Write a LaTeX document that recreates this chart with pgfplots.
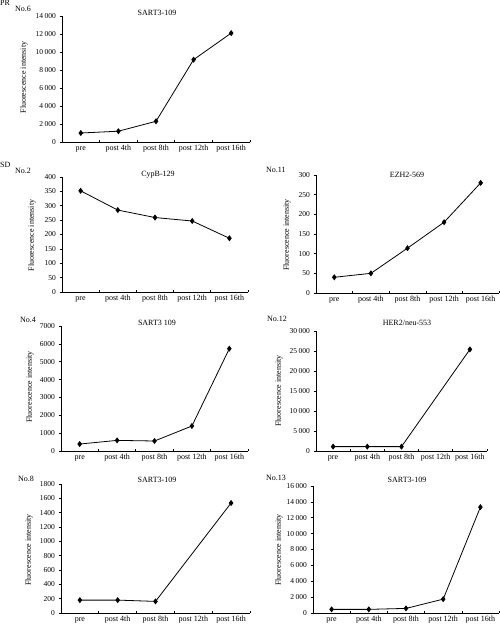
\documentclass[border=0pt]{standalone}
\usepackage{pgfplots}
\pgfplotsset{compat=1.18}
\usepackage{fontspec}
\setmainfont{Liberation Serif}
\newcommand{\fs}[1]{\fontsize{#1}{#1}\selectfont}
\pgfplotsset{
  dat/.style={black, line width=0.8pt, mark=diamond*, mark size=2.4pt, mark options={solid, fill=black}},
  panel/.style={
    scale only axis, anchor=south west,
    axis x line=bottom, axis y line=left,
    axis line style={-, line width=0.6pt, black},
    tick align=inside,
    xmin=-0.5, xmax=4.5, ymin=0,
    x tick label as interval,
    xtick={-0.5,0.5,1.5,2.5,3.5,4.5},
    xticklabels={pre,post 4th,post 8th,post 12th,post 16th},
    tick style={black, line width=0.6pt},
    major tick length=2.5pt,
    ytick style={xshift=-2.5pt},
    yticklabel style={font=\fs{7.5}, xshift=-2.5pt},
    xticklabel style={font=\fs{8}, text height=1.6ex, text depth=0.3ex, yshift=2.5pt},
    scaled y ticks=false,
    /pgf/number format/assume math mode=true,
    /pgf/number format/1000 sep={\hspace{0.22em}},
    clip=false,
  },
}
\begin{document}
\begin{tikzpicture}
\path[use as bounding box] (0pt,0pt) rectangle (500pt,-625pt);
% ---------- PR No.6
\begin{axis}[panel, at={(62pt,-142pt)}, width=188pt, height=126pt,
  ymax=14000, ytick={0,2000,...,14000}]
\addplot[dat] coordinates {(0,1000) (1,1200) (2,2300) (3,9150) (4,12100)};
\end{axis}
% ---------- SD No.2
\begin{axis}[panel, at={(62pt,-292pt)}, width=186pt, height=115pt,
  ymax=400, ytick={0,50,...,400}]
\addplot[dat] coordinates {(0,352) (1,285) (2,259) (3,247) (4,187)};
\end{axis}
% ---------- No.11
\begin{axis}[panel, at={(316pt,-293pt)}, width=183pt, height=118pt,
  ymax=300, ytick={0,50,...,300}]
\addplot[dat] coordinates {(0,40) (1,50) (2,114) (3,180) (4,280)};
\end{axis}
% ---------- No.4
\begin{axis}[panel, at={(61pt,-451pt)}, width=187pt, height=125pt,
  ymax=7000, ytick={0,1000,...,7000}, /pgf/number format/1000 sep={}]
\addplot[dat] coordinates {(0,390) (1,595) (2,560) (3,1400) (4,5730)};
\end{axis}
% ---------- No.12
\begin{axis}[panel, at={(316pt,-451pt)}, width=171pt, height=120pt,
  ymax=30000, ytick={0,5000,...,30000}]
\addplot[dat] coordinates {(0,1100) (1,1100) (2,1100) (4,25400)};
\end{axis}
% ---------- No.8
\begin{axis}[panel, at={(61pt,-613pt)}, width=189pt, height=129pt,
  ymax=1800, ytick={0,200,...,1800}, /pgf/number format/1000 sep={}]
\addplot[dat] coordinates {(0,180) (1,180) (2,162) (4,1535)};
\end{axis}
% ---------- No.13
\begin{axis}[panel, at={(313pt,-613pt)}, width=186pt, height=127pt,
  ymax=16000, ytick={0,2000,...,16000}]
\addplot[dat] coordinates {(0,460) (1,460) (2,580) (3,1745) (4,13340)};
\end{axis}
% ---------- texts
\begin{scope}[every node/.style={inner sep=0pt, font=\fs{8}}]
\node[anchor=north west] at (0pt,0pt) {PR};
\node[anchor=west] at (15pt,-9pt) {No.6};
\node at (157pt,-13pt) {SART3-109};
\node[rotate=90] at (24pt,-77.5pt) {Fluorescence intensity};

\node[anchor=west] at (0pt,-165pt) {SD};
\node[anchor=west] at (15pt,-171pt) {No.2};
\node at (158pt,-175pt) {CypB-129};
\node[rotate=90] at (32pt,-235.5pt) {Fluorescence intensity};

\node[anchor=west] at (266pt,-170pt) {No.11};
\node at (407pt,-175pt) {EZH2-569};
\node[rotate=90] at (287pt,-235pt) {Fluorescence intensity};

\node[anchor=west] at (20pt,-320pt) {No.4};
\node at (157pt,-323pt) {SART3 109};
\node[rotate=90] at (30pt,-387pt) {Fluorescence intensity};

\node[anchor=west] at (267pt,-319pt) {No.12};
\node at (407pt,-323pt) {HER2/neu-553};
\node[rotate=90] at (279pt,-391pt) {Fluorescence intensity};

\node[anchor=west] at (18pt,-479pt) {No.8};
\node at (157pt,-480pt) {SART3-109};
\node[rotate=90] at (29pt,-550pt) {Fluorescence intensity};

\node[anchor=west] at (266pt,-478pt) {No.13};
\node at (407pt,-480pt) {SART3-109};
\node[rotate=90] at (279pt,-550pt) {Fluorescence intensity};
\end{scope}
\end{tikzpicture}
\end{document}
